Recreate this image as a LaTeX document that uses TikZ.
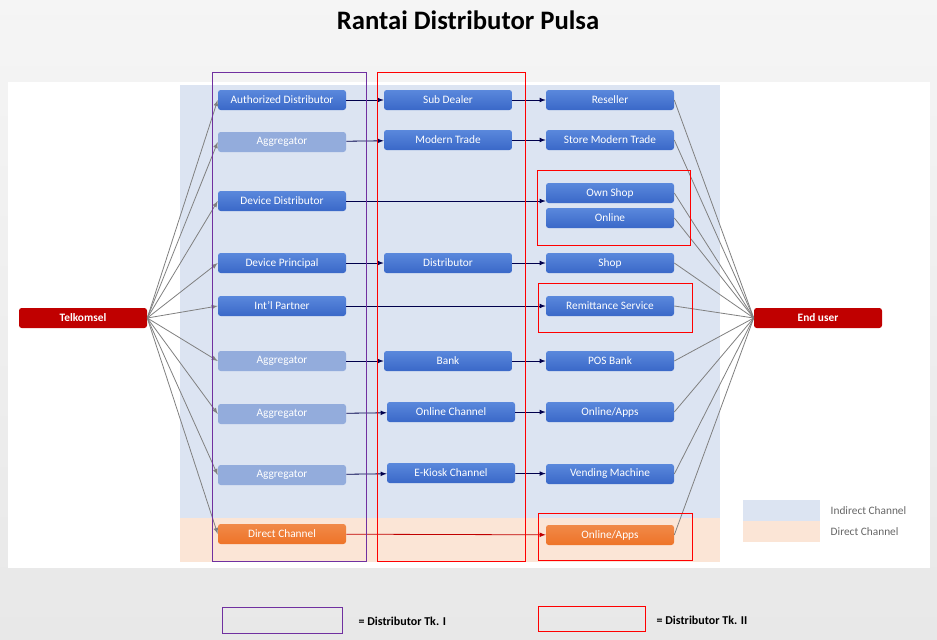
\documentclass[tikz,border=0pt]{standalone}
\usepackage{fontspec}
\setmainfont{Carlito}
\usetikzlibrary{positioning}
\definecolor{boxblue}{HTML}{3A68C8}
\definecolor{boxtop}{HTML}{5A88DC}
\definecolor{fadeblue}{HTML}{93ACDC}
\definecolor{tsred}{HTML}{C00000}
\definecolor{dirorange}{HTML}{EE7428}
\definecolor{indbg}{HTML}{DCE4F2}
\definecolor{dirbg}{HTML}{FBE5D6}
\definecolor{tkone}{HTML}{7030A0}
\tikzset{
  chan/.style   = {shape=rectangle, rounded corners=2pt, minimum width=128\px,
          minimum height=20\px, text=white, font=\fontsize{8.5}{10}\selectfont,
          top color=boxtop, bottom color=boxblue, draw=none},
  faded/.style  = {chan, top color=fadeblue, bottom color=fadeblue},
  direct/.style = {chan, top color=dirorange!85!white, bottom color=dirorange},
  endpt/.style  = {chan, minimum width=128\px, top color=tsred, bottom color=tsred,
          font=\bfseries\fontsize{8.5}{10}\selectfont},
  feed/.style   = {draw=gray, -latex, line width=0.6pt},
  link/.style   = {draw=blue!30!black, -latex, line width=0.6pt},
  tier/.style   = {draw, line width=0.6pt}
}
\newlength{\px}\setlength{\px}{0.75pt}
\begin{document}
\begin{tikzpicture}[x=0.75pt, y=-0.75pt]
  \shade[top color=gray!8, bottom color=gray!18] (0,0) rectangle (937,639);
  \useasboundingbox (0,0) rectangle (937,639);
  \node[font=\bfseries\fontsize{20}{24}\selectfont] (title) at (468,20) {Rantai Distributor Pulsa};
  % panels
  \fill[white] (8,82) rectangle (930,568);
  \fill[indbg] (180,85) rectangle (720,518);
  \fill[dirbg] (180,518) rectangle (720,562);
  \fill[indbg] (743,500) rectangle (820,521);
  \fill[dirbg] (743,521) rectangle (820,542);
  \node[anchor=west, text=gray!80!black, font=\fontsize{8.5}{10}\selectfont] (lind) at (826,511) {Indirect Channel};
  \node[anchor=west, text=gray!80!black, font=\fontsize{8.5}{10}\selectfont] (ldir) at (826,532) {Direct Channel};
  % end points
  \node[endpt] (tsel) at (83,318) {Telkomsel};
  \node[endpt] (user) at (818,318) {End user};
  % tier I
  \node[chan]   (auth)  at (282,100) {Authorized Distributor};
  \node[faded]  (agga)  at (282,142) {Aggregator};
  \node[chan]   (devd)  at (282,201) {Device Distributor};
  \node[chan]   (devp)  at (282,263) {Device Principal};
  \node[chan]   (intl)  at (282,306) {Int'l Partner};
  \node[faded]  (aggb)  at (282,361) {Aggregator};
  \node[faded]  (aggc)  at (282,414) {Aggregator};
  \node[faded]  (aggd)  at (282,475) {Aggregator};
  \node[direct] (dirc)  at (282,534) {Direct Channel};
  % tier II
  \node[chan] (subd)  at (448,100) {Sub Dealer};
  \node[chan] (modt)  at (448,140) {Modern Trade};
  \node[chan] (dist)  at (448,263) {Distributor};
  \node[chan] (bank)  at (448,361) {Bank};
  \node[chan] (onch)  at (451,412) {Online Channel};
  \node[chan] (kiosk) at (451,473) {E-Kiosk Channel};
  % outlets
  \node[chan]   (resl)  at (610,100) {Reseller};
  \node[chan]   (stmt)  at (610,140) {Store Modern Trade};
  \node[chan]   (owns)  at (610,193) {Own Shop};
  \node[chan]   (onl)   at (610,218) {Online};
  \node[chan]   (shop)  at (610,263) {Shop};
  \node[chan]   (remit) at (610,306) {Remittance Service};
  \node[chan]   (posb)  at (610,361) {POS Bank};
  \node[chan]   (apps)  at (610,412) {Online/Apps};
  \node[chan]   (vend)  at (610,474) {Vending Machine};
  \node[direct] (dapps) at (610,535) {Online/Apps};
  % connectors
  \foreach \n in {auth,agga,devd,devp,intl,aggb,aggc,aggd,dirc}
    \draw[feed] (tsel.east) -- (\n.west);
  \foreach \n in {resl,stmt,owns,onl,shop,remit,posb,apps,vend,dapps}
    \draw[feed, -] (\n.east) -- (user.west);
  \draw[link] (auth) -- (subd);
  \draw[link] (agga) -- (modt);
  \draw[link] (devp) -- (dist);
  \draw[link] (aggb) -- (bank);
  \draw[link] (aggc) -- (onch);
  \draw[link] (aggd) -- (kiosk);
  \draw[link] (subd) -- (resl);
  \draw[link] (modt) -- (stmt);
  \draw[link] (dist) -- (shop);
  \draw[link] (bank) -- (posb);
  \draw[link] (onch) -- (apps);
  \draw[link] (kiosk) -- (vend);
  \draw[link] (devd.east) -- (owns.west |- devd.east);
  \draw[link] (intl) -- (remit);
  \draw[link, draw=tsred] (dirc) -- (dapps);
  % tier frames
  \draw[tier, tkone] (212,72) rectangle (366,561);
  \draw[tier, red] (377,72) rectangle (525,561);
  \draw[tier, red] (537,170) rectangle (690,245);
  \draw[tier, red] (538,283) rectangle (692,332);
  \draw[tier, red] (538,513) rectangle (692,560);
  % key
  \draw[tier, tkone] (222,607) rectangle (342,633);
  \node[anchor=west, font=\bfseries\fontsize{9}{11}\selectfont] (keyone) at (354,621) {= Distributor Tk. I};
  \draw[tier, red] (538,606) rectangle (645,631);
  \node[anchor=west, font=\bfseries\fontsize{9}{11}\selectfont] (keytwo) at (652,620) {= Distributor Tk. II};
\end{tikzpicture}
\end{document}
